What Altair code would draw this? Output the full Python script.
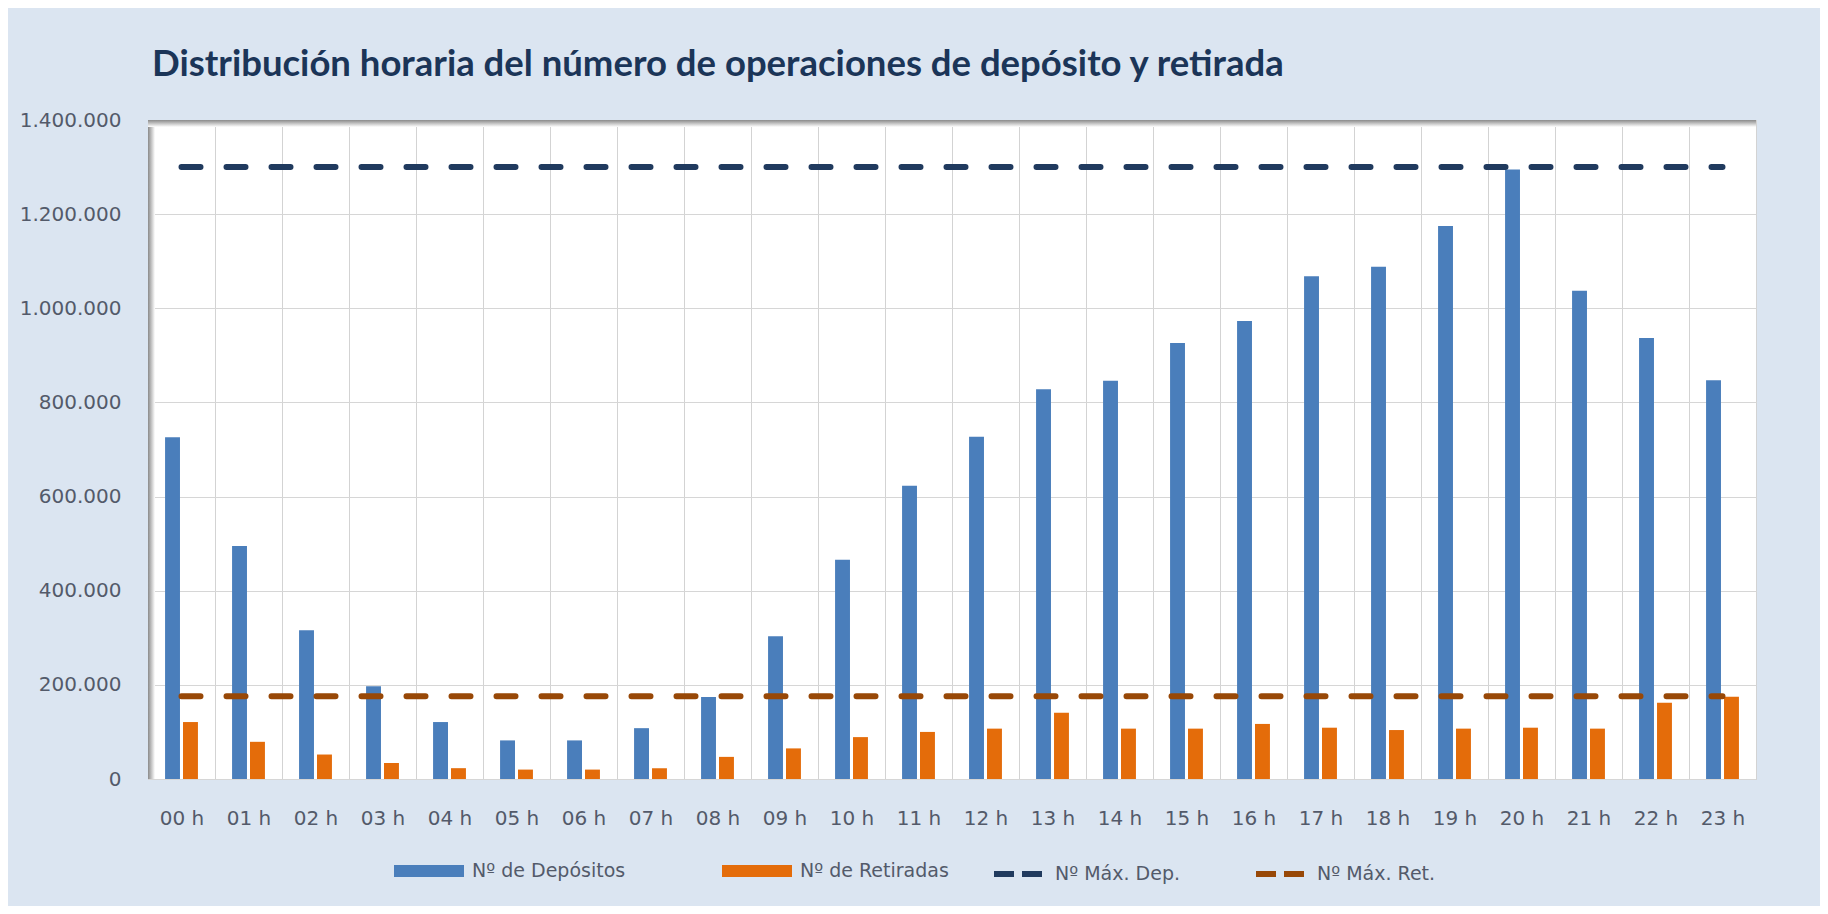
import altair as alt
import pandas as pd

hours = ["00 h", "01 h", "02 h", "03 h", "04 h", "05 h", "06 h", "07 h", "08 h", "09 h",
         "10 h", "11 h", "12 h", "13 h", "14 h", "15 h", "16 h", "17 h", "18 h", "19 h",
         "20 h", "21 h", "22 h", "23 h"]
depositos = [726000, 495000, 316000, 197000, 121000, 82000, 82000, 108000, 174000, 303000,
             466000, 623000, 727000, 828000, 846000, 926000, 973000, 1068000, 1088000, 1175000,
             1295000, 1037000, 937000, 847000]
retiradas = [121000, 79000, 52000, 34000, 23000, 20000, 20000, 23000, 47000, 65000,
             89000, 100000, 107000, 141000, 107000, 107000, 117000, 109000, 104000, 107000,
             109000, 107000, 162000, 175000]
series_bar = ["Nº de Depósitos", "Nº de Retiradas"]
series_max = ["Nº Máx. Dep.", "Nº Máx. Ret."]
max_values = [1300000, 176000]
y_ticks = [0, 200000, 400000, 600000, 800000, 1000000, 1200000, 1400000]

BLUE = "#4a7ebb"
ORANGE = "#e46c0a"
NAVY = "#203a5e"
BROWN = "#984807"
BG = "#dbe5f1"
TXT = "#535a6a"
FONT = "DejaVu Sans"

df = pd.DataFrame({
    "hora": hours * 2,
    "serie": [series_bar[0]] * len(hours) + [series_bar[1]] * len(hours),
    "valor": depositos + retiradas,
})
df_max = pd.DataFrame({
    "serie": series_max,
    "valor": max_values,
    "ini": [hours[0]] * 2,
    "fin": [hours[-1]] * 2,
})

xscale = alt.Scale(domain=hours, paddingInner=0, paddingOuter=0)
yscale = alt.Scale(domain=[0, 1400000], nice=False)

x_axis = alt.Axis(title=None, labelAngle=0, tickBand="extent", grid=True,
                  gridColor="#d3d3d3", gridWidth=1, domain=False, ticks=False,
                  labelFont=FONT, labelFontSize=20, labelColor=TXT, labelPadding=29)
y_axis = alt.Axis(title=None, values=y_ticks, grid=True, gridColor="#d6d6d6",
                  domain=False, ticks=False, labelFont=FONT, labelFontSize=20,
                  labelColor=TXT, labelPadding=27,
                  labelExpr="replace(format(datum.value, ','), regexp(',', 'g'), '.')")

bars = alt.Chart(df).mark_bar().encode(
    x=alt.X("hora:N", sort=hours, scale=xscale, axis=x_axis),
    xOffset=alt.XOffset("serie:N", sort=series_bar,
                        scale=alt.Scale(domain=series_bar, paddingInner=0.17, paddingOuter=0.95)),
    y=alt.Y("valor:Q", scale=yscale, axis=y_axis),
    color=alt.Color("serie:N", sort=series_bar,
                    scale=alt.Scale(domain=series_bar, range=[BLUE, ORANGE]),
                    legend=alt.Legend(title=None, orient="none", legendX=246, legendY=716,
                                      direction="horizontal",
                                      symbolType="M-1,-0.17H1V0.17H-1Z", symbolSize=4900,
                                      symbolStrokeWidth=0, symbolOpacity=1,
                                      labelFont=FONT, labelFontSize=19, labelColor=TXT,
                                      labelOffset=8, columnPadding=96)),
)

rules = alt.Chart(df_max).mark_rule(strokeWidth=6, strokeDash=[19, 26], strokeCap="round").encode(
    x=alt.X("ini:N", scale=xscale, axis=x_axis),
    x2="fin:N",
    y=alt.Y("valor:Q", scale=yscale, axis=y_axis),
    color=alt.Color("serie:N", sort=series_max,
                    scale=alt.Scale(domain=series_max, range=[NAVY, BROWN]),
                    legend=alt.Legend(title=None, orient="none", legendX=843, legendY=727,
                                      direction="horizontal", symbolType="stroke",
                                      symbolSize=2304, symbolStrokeWidth=6,
                                      symbolDash=[20, 8],
                                      labelFont=FONT, labelFontSize=19, labelColor=TXT,
                                      labelOffset=10, columnPadding=64)),
)

shadow_df = pd.DataFrame({"k": [0]})
left_shadow = alt.Chart(shadow_df).mark_rect(
    color=alt.LinearGradient(gradient="linear", x1=0, x2=1, y1=0, y2=0,
                             stops=[alt.GradientStop(color="#8a8a8a", offset=0),
                                    alt.GradientStop(color="#ffffff", offset=1)])
).encode(x=alt.value(0), x2=alt.value(7), y=alt.value(0), y2=alt.value(659))
top_shadow = alt.Chart(shadow_df).mark_rect(
    color=alt.LinearGradient(gradient="linear", x1=0, x2=0, y1=0, y2=1,
                             stops=[alt.GradientStop(color="#8a8a8a", offset=0),
                                    alt.GradientStop(color="#ffffff", offset=1)])
).encode(x=alt.value(0), x2=alt.value(1608), y=alt.value(0), y2=alt.value(7))

chart = alt.layer(bars, rules, left_shadow, top_shadow).resolve_scale(
    color="independent"
).properties(
    width=1608,
    height=659,
    autosize=alt.AutoSizeParams(type="none"),
    padding={"left": 140, "top": 112, "right": 64, "bottom": 127},
    background=BG,
    title=alt.Title("Distribución horaria del número de operaciones de depósito y retirada",
                    anchor="start", frame="group", font="Lato", fontSize=36.5, fontWeight="bold",
                    color="#1b3558", offset=27, dx=4),
).configure_view(fill="white", stroke="#c8c8c8", strokeWidth=1)

chart.save("out.html", embed_options={"renderer": "svg", "actions": False})
